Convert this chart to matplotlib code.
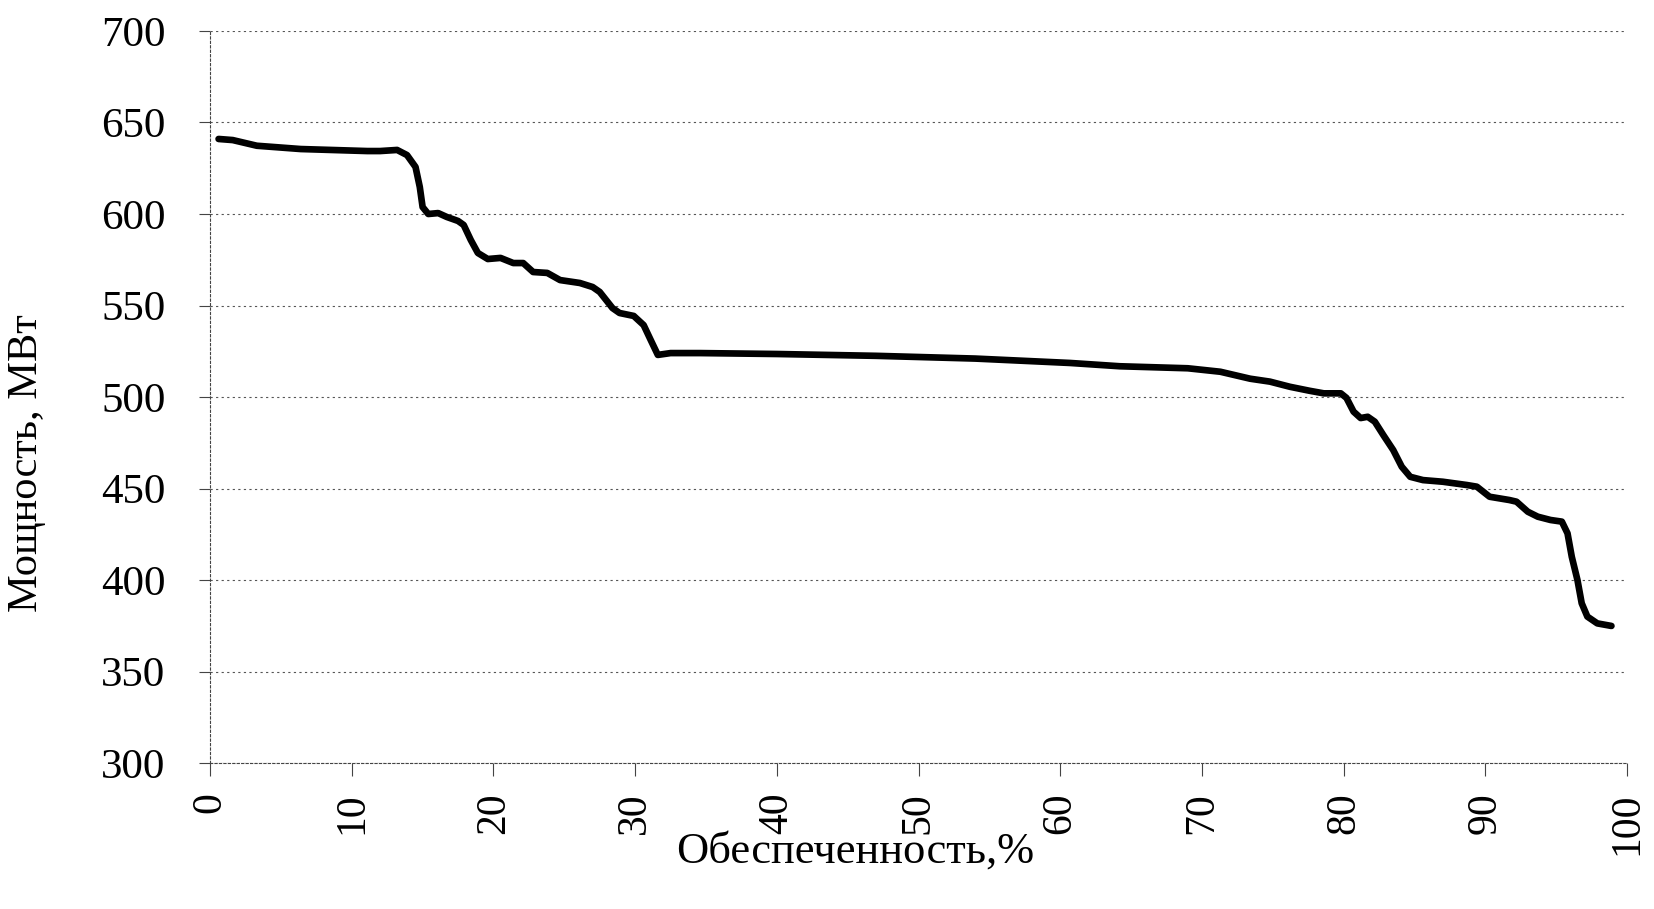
import numpy as np
import matplotlib
matplotlib.use("Agg")
import matplotlib.pyplot as plt

plt.rcParams['font.family'] = ['Liberation Serif', 'DejaVu Serif']

# кривая обеспеченности мощности
obesp = [0.6, 1.6, 3.3, 6.4, 11.1, 12.0, 13.2, 13.9, 14.5, 14.8, 15.0, 15.4, 16.1,
         16.7, 17.5, 17.9, 18.4, 18.9, 19.6, 20.5, 21.4, 22.1, 22.8, 23.8, 24.7,
         26.1, 27.0, 27.5, 28.4, 28.9, 29.9, 30.6, 31.1, 31.6, 32.5, 34.6, 40.0,
         47.0, 54.0, 60.7, 64.2, 69.0, 71.3, 73.4, 74.8, 76.2, 77.6, 78.6, 79.8,
         80.2, 80.7, 81.2, 81.7, 82.2, 82.8, 83.5, 84.1, 84.7, 85.6, 87.0, 88.7,
         89.4, 90.3, 91.7, 92.2, 93.0, 93.7, 94.6, 95.4, 95.8, 96.1, 96.5, 96.8,
         97.2, 97.9, 98.9]
moshch = [641.0, 640.4, 637.3, 635.5, 634.4, 634.4, 635.0, 632.2, 625.7, 614.8,
          603.8, 600.0, 600.5, 598.4, 596.2, 594.0, 585.8, 578.7, 575.4, 576.0,
          573.2, 573.2, 568.3, 567.8, 563.9, 562.3, 560.1, 557.4, 548.6, 545.9,
          544.3, 539.3, 531.1, 523.0, 524.0, 524.0, 523.5, 522.5, 521.0, 518.6,
          516.8, 515.7, 513.8, 510.0, 508.4, 505.6, 503.4, 502.0, 502.0, 499.5,
          492.0, 488.5, 489.2, 486.5, 479.2, 471.0, 461.9, 456.4, 454.6, 453.7,
          451.9, 451.0, 445.5, 443.7, 442.8, 437.3, 434.6, 432.8, 431.9, 425.5,
          412.7, 400.0, 387.3, 380.0, 376.3, 374.9]

xticks = list(range(0, 101, 10))
yticks = list(range(300, 701, 50))

fig = plt.figure(figsize=(16.54, 9.09), dpi=100)
ax = fig.add_axes([0.127, 0.1606, 0.8567, 0.8053])

ax.plot(obesp, moshch, color='black', lw=4.8, solid_capstyle='round',
        solid_joinstyle='round')

ax.set_xlim(0, 100)
ax.set_ylim(300, 700)
ax.set_xticks(xticks)
ax.set_yticks(yticks)
ax.set_xticklabels([str(t) for t in xticks], rotation=90, fontsize=30)
ax.set_yticklabels([str(t) for t in yticks], fontsize=31)

ax.yaxis.grid(True, linestyle=(0, (2, 3)), color='#555555', lw=0.8)
ax.set_axisbelow(True)
for s in ['top', 'right']:
    ax.spines[s].set_visible(False)
for s in ['left', 'bottom']:
    ax.spines[s].set_linestyle((0, (2, 2)))
    ax.spines[s].set_linewidth(0.8)
    ax.spines[s].set_color('#444444')

ax.tick_params(axis='x', length=9, width=0.8, color='#444444', pad=12)
ax.tick_params(axis='y', length=8, width=0.8, color='#444444', pad=24)

fig.text(0.517, 0.0506, 'Обеспеченность,%', fontsize=32, ha='center', va='baseline')
fig.text(0.016, 0.49, 'Мощность, МВт', fontsize=30.5, rotation=90,
         ha='center', va='center')

fig.savefig('out.png', dpi=100)
